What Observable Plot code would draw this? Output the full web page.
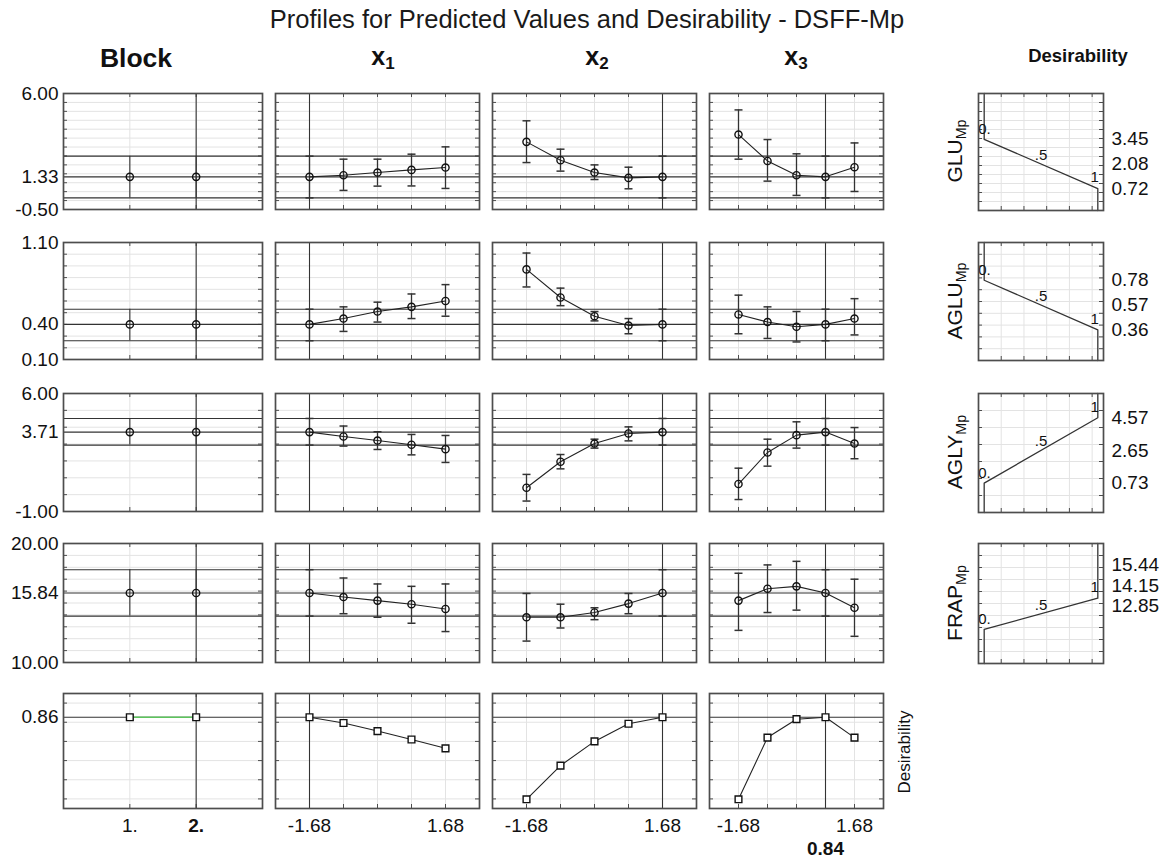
<!DOCTYPE html>
<html><head><meta charset="utf-8">
<script src="https://cdn.jsdelivr.net/npm/d3@7"></script>
<script src="https://cdn.jsdelivr.net/npm/@observablehq/plot@0.6"></script>
<style>
body{margin:0;background:#fff;font-family:Arial,"Liberation Sans",sans-serif;}
#root{position:relative;width:1176px;height:861px;overflow:hidden;background:#fff;}
sub{font-size:68%;vertical-align:-0.25em;}
</style></head><body><div id="root"></div>
<script>
// ---------------- DATA ----------------
const levels = [-1.68, -0.84, 0, 0.84, 1.68];
const levelLabels = [-1.68, 1.68];
const blocks = [1, 2];
const factors = ["x1", "x2", "x3"];
const currentFactor = [-1.68, 1.68, 0.84];
const currentBlock = 2;
const responses = ["GLU", "AGLU", "AGLY", "FRAP"];
const yDomains = [[-0.5, 6], [0.1, 1.1], [-1, 6], [10, 20]];
const yTickLabels = [[6.00, 1.33, -0.50], [1.10, 0.40, 0.10], [6.00, 3.71, -1.00], [20.00, 15.84, 10.00]];
const gridSteps = [0.5, 0.1, 1, 1];
const currentPred = [1.33, 0.40, 3.71, 15.84];
const currentLo = [0.15, 0.26, 2.94, 13.9];
const currentHi = [2.49, 0.53, 4.52, 17.8];

const gluPred = [[1.33,1.42,1.57,1.72,1.85],[3.29,2.26,1.57,1.27,1.33],[3.70,2.22,1.42,1.33,1.87]];
const gluLo   = [[0.15,0.57,0.81,0.82,0.68],[2.13,1.65,1.18,0.66,0.15],[2.32,1.09,0.29,0.15,0.51]];
const gluHi   = [[2.49,2.32,2.32,2.60,3.01],[4.47,2.88,2.00,1.87,2.49],[5.08,3.42,2.62,2.49,3.23]];

const agluPred = [[0.40,0.45,0.51,0.55,0.60],[0.87,0.63,0.47,0.39,0.40],[0.485,0.42,0.38,0.40,0.45]];
const agluLo   = [[0.26,0.34,0.42,0.45,0.47],[0.72,0.56,0.43,0.32,0.26],[0.32,0.28,0.25,0.26,0.31]];
const agluHi   = [[0.53,0.55,0.59,0.66,0.74],[1.01,0.71,0.51,0.45,0.53],[0.65,0.55,0.51,0.53,0.62]];

const aglyPred = [[3.71,3.45,3.21,2.96,2.70],[0.41,1.95,3.03,3.63,3.71],[0.63,2.50,3.53,3.71,3.03]];
const aglyLo   = [[2.94,2.88,2.68,2.36,1.91],[-0.38,1.53,2.76,3.19,2.94],[-0.29,1.69,2.76,2.94,2.13]];
const aglyHi   = [[4.52,4.07,3.73,3.57,3.51],[1.20,2.38,3.29,4.02,4.52],[1.57,3.29,4.32,4.52,3.98]];

const frapPred = [[15.84,15.5,15.2,14.9,14.5],[13.8,13.8,14.2,14.95,15.84],[15.2,16.2,16.4,15.84,14.6]];
const frapLo   = [[13.9,14.1,13.8,13.3,12.6],[11.8,12.9,13.6,14.1,13.9],[12.7,14.2,14.4,13.9,12.2]];
const frapHi   = [[17.8,17.1,16.6,16.4,16.6],[15.8,14.9,14.6,15.8,17.8],[17.5,18.2,18.5,17.8,17.0]];

const desirFactor = [[0.863,0.848,0.827,0.805,0.782],[0.649,0.737,0.800,0.846,0.863],[0.649,0.810,0.858,0.863,0.810]];
const desirBlock = [0.863, 0.863];
const desirDomain = [0.625, 0.925];
const desirGrid = [0.65, 0.70, 0.75, 0.80, 0.85, 0.90];

// desirability functions: response value at d = 0, .5, 1
const desAt0 = [3.45, 0.78, 0.73, 12.85];
const desAtHalf = [2.08, 0.57, 2.65, 14.15];
const desAt1 = [0.72, 0.36, 4.57, 15.44];
const desLevels = [0, 0.5, 1];
const desLevelLabels = ["0.", ".5", "1"];
const desGrid = [0.15, 0.35, 0.55, 0.75, 0.95];

const predAll = [gluPred, agluPred, aglyPred, frapPred];
const loAll = [gluLo, agluLo, aglyLo, frapLo];
const hiAll = [gluHi, agluHi, aglyHi, frapHi];

// ---------------- LAYOUT ----------------
const FONT = 'Arial, "Liberation Sans", sans-serif';
const root = document.getElementById("root");
const colBoxes = [[63, 262], [275, 479], [492, 696], [709, 883]];
const desBox = [978, 1103];
const rowBoxes = [[93, 209], [242, 359], [393, 511], [543, 662], [693, 808]];
const GRID = "#e3e3e3", REF = "#333", FRAME = "#4d4d4d";
// vertical nudges (px) of the right-hand value labels (order: d=0, d=.5, d=1) so they do not collide
const desLabelShift = [[0, 0, 0], [0, 0, 0], [0, 0, 0], [-23, -28, -33]];

function html(content, css) {
  const d = document.createElement("div");
  d.innerHTML = content;
  Object.assign(d.style, {position: "absolute", whiteSpace: "nowrap", fontFamily: FONT, color: "#111",
    transform: "translate(-50%,-50%)"}, css);
  root.append(d);
  return d;
}

const capSymbol = {draw(ctx, size) { const w = Math.sqrt(size / Math.PI); ctx.moveTo(-w, 0); ctx.lineTo(w, 0); }};

function range(a, b, s) { const out = []; for (let v = a; v <= b + s * 1e-6; v += s) out.push(+v.toFixed(6)); return out; }

function panel({xb, yb, xDomain, yDomain, xTicks, yTicks, marks, mL = 3, mR = 3, mT = 3, mB = 3}) {
  const w = xb[1] - xb[0], h = yb[1] - yb[0];
  const svg = Plot.plot({
    width: w + mL + mR, height: h + mT + mB,
    marginLeft: mL, marginRight: mR, marginTop: mT, marginBottom: mB,
    x: {domain: xDomain, axis: null, label: null},
    y: {domain: yDomain, axis: null, label: null},
    style: {fontFamily: FONT, color: "#111", background: "transparent", overflow: "visible"},
    marks: [
      Plot.gridX(xTicks, {stroke: GRID, strokeOpacity: 1}),
      Plot.gridY(yTicks, {stroke: GRID, strokeOpacity: 1}),
      Plot.tickX(xTicks, {x: d => d, insetTop: h - 4, stroke: FRAME}),
      Plot.tickX(xTicks, {x: d => d, insetBottom: h - 4, stroke: FRAME}),
      Plot.tickY(yTicks, {y: d => d, insetRight: w - 4, stroke: FRAME}),
      Plot.tickY(yTicks, {y: d => d, insetLeft: w - 4, stroke: FRAME}),
      ...marks,
      Plot.frame({stroke: FRAME, strokeWidth: 1.7})
    ]
  });
  Object.assign(svg.style, {position: "absolute", left: (xb[0] - mL) + "px", top: (yb[0] - mT) + "px"});
  root.append(svg);
}

const blockDomain = [0, 3];
const factorDomain = [-2.52, 2.52];
const desDomainX = [-0.05, 1.05];
const AX = {tickSize: 0, fontSize: 19, label: null};

// ---------------- RESPONSE ROWS ----------------
responses.forEach((resp, r) => {
  const yDom = yDomains[r];
  const yTicks = range(yDom[0], yDom[1], gridSteps[r]);
  const refLines = [currentLo[r], currentPred[r], currentHi[r]];
  // Block column
  const bdata = blocks.map(b => ({x: b, y: currentPred[r], lo: currentLo[r], hi: currentHi[r]}));
  panel({
    xb: colBoxes[0], yb: rowBoxes[r], xDomain: blockDomain, yDomain: yDom, xTicks: blocks, yTicks,
    mL: 63, mT: 12, mB: 12,
    marks: [
      Plot.ruleY(refLines, {stroke: REF, strokeWidth: 1.1}),
      Plot.ruleX([currentBlock], {stroke: REF, strokeWidth: 1.1}),
      Plot.ruleX(bdata, {x: "x", y1: "lo", y2: "hi", stroke: REF, strokeWidth: 1.1}),
      Plot.dot(bdata, {x: "x", y: "y", r: 3.6, stroke: "#111", strokeWidth: 1.4, fill: "none"}),
      Plot.axisY(yTickLabels[r], {...AX, anchor: "left", tickPadding: 5, tickFormat: d => d.toFixed(2)})
    ]
  });
  // factor columns
  factors.forEach((f, k) => {
    const data = levels.map((lv, i) => ({x: lv, y: predAll[r][k][i], lo: loAll[r][k][i], hi: hiAll[r][k][i]}));
    panel({
      xb: colBoxes[k + 1], yb: rowBoxes[r], xDomain: factorDomain, yDomain: yDom, xTicks: levels, yTicks,
      marks: [
        Plot.ruleY(refLines, {stroke: REF, strokeWidth: 1.1}),
        Plot.ruleX([currentFactor[k]], {stroke: REF, strokeWidth: 1.1}),
        Plot.ruleX(data, {x: "x", y1: "lo", y2: "hi", stroke: "#333", strokeWidth: 1.3}),
        Plot.dot(data, {x: "x", y: "lo", symbol: capSymbol, r: 4, stroke: "#333", strokeWidth: 1.5}),
        Plot.dot(data, {x: "x", y: "hi", symbol: capSymbol, r: 4, stroke: "#333", strokeWidth: 1.5}),
        Plot.line(data, {x: "x", y: "y", stroke: "#222", strokeWidth: 1.1}),
        Plot.dot(data, {x: "x", y: "y", r: 3.6, stroke: "#111", strokeWidth: 1.4, fill: "none"})
      ]
    });
  });
  // desirability function panel
  const decreasing = desAt0[r] > desAt1[r];
  const path = [
    {d: 0, v: decreasing ? yDom[1] : yDom[0]},
    {d: 0, v: desAt0[r]},
    {d: 1, v: desAt1[r]},
    {d: 1, v: decreasing ? yDom[0] : yDom[1]}
  ];
  const vals = [desAt0[r], desAtHalf[r], desAt1[r]];
  const labels = desLevels.map((d, i) => ({d, v: vals[i], t: desLevelLabels[i]}));
  panel({
    xb: desBox, yb: [rowBoxes[r][0], rowBoxes[r][1] + 1], xDomain: desDomainX, yDomain: yDom,
    xTicks: desGrid, yTicks, mR: 75, mT: 12, mB: 12,
    marks: [
      Plot.line(path, {x: "d", y: "v", stroke: "#333", strokeWidth: 1.3}),
      Plot.text(labels.slice(0, 1), {x: "d", y: "v", text: "t", textAnchor: "start", dx: -6, dy: -10, fontSize: 15}),
      Plot.text(labels.slice(1, 2), {x: "d", y: "v", text: "t", dy: -9, fontSize: 15}),
      Plot.text(labels.slice(2, 3), {x: "d", y: "v", text: "t", textAnchor: "end", dx: 1, dy: -11, fontSize: 15}),
      ...vals.map((v, i) => Plot.axisY([v], {...AX, anchor: "right", tickPadding: 8, dy: desLabelShift[r][i],
        tickFormat: d => d.toFixed(2)}))
    ]
  });
  html(`${resp}<sub>Mp</sub>`, {left: "956px", top: ((rowBoxes[r][0] + rowBoxes[r][1]) / 2) + "px",
    fontSize: "21px", transform: "translate(-50%,-50%) rotate(-90deg)"});
});

// ---------------- DESIRABILITY ROW ----------------
{
  const r = 4;
  const bdata = blocks.map((b, i) => ({x: b, y: desirBlock[i]}));
  panel({
    xb: colBoxes[0], yb: rowBoxes[r], xDomain: blockDomain, yDomain: desirDomain, xTicks: blocks, yTicks: desirGrid,
    mL: 63, mT: 12, mB: 50,
    marks: [
      Plot.ruleY([desirBlock[1]], {stroke: REF, strokeWidth: 1.1}),
      Plot.ruleX([currentBlock], {stroke: REF, strokeWidth: 1.1}),
      Plot.line(bdata, {x: "x", y: "y", stroke: "#5cc45c", strokeWidth: 1.6}),
      Plot.dot(bdata, {x: "x", y: "y", symbol: "square", r: 3.8, stroke: "#111", strokeWidth: 1.4, fill: "white"}),
      Plot.axisY([desirBlock[1]], {...AX, anchor: "left", tickPadding: 5, tickFormat: d => d.toFixed(2)}),
      Plot.axisX([blocks[0]], {...AX, anchor: "bottom", tickPadding: 10, tickFormat: d => d + "."}),
      Plot.axisX([blocks[1]], {...AX, anchor: "bottom", tickPadding: 10, fontWeight: "bold", tickFormat: d => d + "."})
    ]
  });
  factors.forEach((f, k) => {
    const data = levels.map((lv, i) => ({x: lv, y: desirFactor[k][i]}));
    const extra = k === 2 ? [Plot.axisX([currentFactor[k]], {...AX, anchor: "bottom", tickPadding: 33,
      fontWeight: "bold", tickFormat: d => d.toFixed(2)})] : [];
    panel({
      xb: colBoxes[k + 1], yb: rowBoxes[r], xDomain: factorDomain, yDomain: desirDomain, xTicks: levels, yTicks: desirGrid,
      mB: 50,
      marks: [
        Plot.ruleY([desirBlock[1]], {stroke: REF, strokeWidth: 1.1}),
        Plot.ruleX([currentFactor[k]], {stroke: REF, strokeWidth: 1.1}),
        Plot.line(data, {x: "x", y: "y", stroke: "#222", strokeWidth: 1.1}),
        Plot.dot(data, {x: "x", y: "y", symbol: "square", r: 3.8, stroke: "#111", strokeWidth: 1.4, fill: "white"}),
        Plot.axisX(levelLabels, {...AX, anchor: "bottom", tickPadding: 10, tickFormat: d => d.toFixed(2)}),
        ...extra
      ]
    });
  });
  html("Desirability", {left: "905px", top: "752px", fontSize: "17px", transform: "translate(-50%,-50%) rotate(-90deg)"});
}

// ---------------- TITLES ----------------
html("Profiles for Predicted Values and Desirability - DSFF-Mp", {left: "587px", top: "19px", fontSize: "25.5px", color: "#1a1a1a"});
html("Block", {left: "136px", top: "58px", fontSize: "26.5px", fontWeight: "bold"});
["x<sub>1</sub>", "x<sub>2</sub>", "x<sub>3</sub>"].forEach((t, k) => {
  html(t, {left: [383, 597, 796][k] + "px", top: "58px", fontSize: "25px", fontWeight: "bold"});
});
html("Desirability", {left: "1078px", top: "56px", fontSize: "18.5px", fontWeight: "bold"});
</script></body></html>
